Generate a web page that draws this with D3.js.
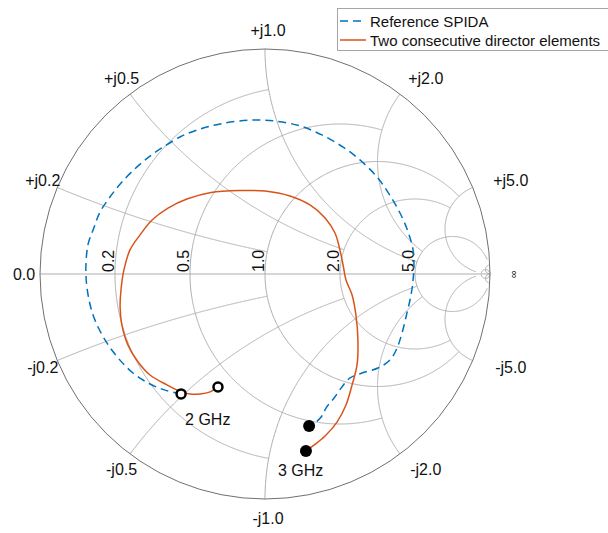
<!DOCTYPE html>
<html>
<head>
<meta charset="utf-8">
<script src="https://cdn.jsdelivr.net/npm/d3@7"></script>
<style>
  body { margin: 0; background: #fff; }
  svg { display: block; }
  text { font-family: "Liberation Sans", Arial, Helvetica, sans-serif; fill: #111; }
</style>
</head>
<body>
<svg id="chart" width="608" height="533"></svg>
<script>
// Smith chart grid: circle values and the value up to which each circle / arc is drawn
const gridValues = [0.2, 0.5, 1.0, 2.0, 5.0, 50.0];
const gridLimits = [1.0, 2.0, 5.0, 5.0, 30.0, Infinity];

// Tick labels
const resistanceTicks = [0.2, 0.5, 1.0, 2.0, 5.0];
const reactanceTicks = [0.2, 0.5, 1.0, 2.0, 5.0];
const reactanceLabels = ["0.2", "0.5", "1.0", "2.0", "5.0"];

// Reflection coefficient traces [Re, Im], 2 GHz -> 3 GHz
const referenceSpida = [
  [-0.373, -0.533], [-0.444, -0.516], [-0.511, -0.489], [-0.587, -0.440],
  [-0.653, -0.373], [-0.711, -0.293], [-0.756, -0.204], [-0.782, -0.116],
  [-0.796, 0.000], [-0.787, 0.129], [-0.764, 0.196], [-0.733, 0.276],
  [-0.689, 0.342], [-0.636, 0.409], [-0.569, 0.476], [-0.511, 0.524],
  [-0.453, 0.564], [-0.378, 0.609], [-0.302, 0.640], [-0.200, 0.667],
  [-0.067, 0.684], [0.044, 0.680], [0.156, 0.658], [0.253, 0.618],
  [0.347, 0.564], [0.422, 0.507], [0.498, 0.431], [0.551, 0.356],
  [0.600, 0.271], [0.636, 0.187], [0.658, 0.107], [0.662, 0.040],
  [0.658, -0.027], [0.649, -0.093], [0.631, -0.173], [0.609, -0.262],
  [0.587, -0.329], [0.556, -0.382], [0.502, -0.418], [0.431, -0.440],
  [0.378, -0.462], [0.342, -0.502], [0.307, -0.551], [0.271, -0.596],
  [0.253, -0.631], [0.227, -0.658], [0.196, -0.676]
];
const directorPair = [
  [-0.209, -0.502], [-0.244, -0.524], [-0.289, -0.533], [-0.333, -0.533],
  [-0.373, -0.524], [-0.436, -0.493], [-0.511, -0.449], [-0.564, -0.391],
  [-0.609, -0.316], [-0.636, -0.227], [-0.644, -0.147], [-0.640, -0.071],
  [-0.627, 0.018], [-0.600, 0.107], [-0.556, 0.173], [-0.502, 0.240],
  [-0.431, 0.293], [-0.347, 0.333], [-0.240, 0.362], [-0.111, 0.371],
  [0.000, 0.369], [0.111, 0.347], [0.200, 0.307], [0.267, 0.249],
  [0.311, 0.182], [0.333, 0.107], [0.347, 0.040], [0.360, -0.027],
  [0.387, -0.093], [0.404, -0.182], [0.413, -0.293], [0.409, -0.404],
  [0.387, -0.493], [0.360, -0.582], [0.320, -0.658], [0.267, -0.720],
  [0.213, -0.764], [0.182, -0.787]
];

const seriesNames = ["Reference SPIDA", "Two consecutive director elements"];
const seriesColors = ["#0072BD", "#D95319"];
const freqLabels = ["2 GHz", "3 GHz"];

const svg = d3.select("#chart");
const cx = 265, cy = 274, R = 225;

// Reflection-plane scales
const gx = d3.scaleLinear().domain([-1, 1]).range([cx - R, cx + R]);
const gy = d3.scaleLinear().domain([-1, 1]).range([cy + R, cy - R]);

// normalized impedance r + jx -> reflection coefficient
function gamma(r, x) {
  const d = (r + 1) * (r + 1) + x * x;
  return [(r * r - 1 + x * x) / d, (2 * x) / d];
}
// map t in [0, 1] onto [0, lim], using a tangent stretch for an unbounded limit
function span(lim, t) {
  return isFinite(lim) ? lim * t : Math.tan(Math.min(t, 0.9995) * Math.PI / 2);
}
const line = d3.line().x(d => gx(d[0])).y(d => gy(d[1]));
const smooth = d3.line().x(d => gx(d[0])).y(d => gy(d[1])).curve(d3.curveCatmullRom.alpha(0.5));

const grid = svg.append("g")
  .attr("fill", "none").attr("stroke", "#adadad").attr("stroke-width", 1);

// real axis
grid.append("path").attr("d", line([[-1, 0], [1, 0]]));

gridValues.forEach((v, i) => {
  const lim = gridLimits[i];
  // constant resistance circle, |x| <= lim
  const rc = d3.range(-400, 401).map(k => gamma(v, Math.sign(k) * span(lim, Math.abs(k) / 400)));
  grid.append("path").attr("d", line(rc));
  // constant reactance arcs +/-v, r <= lim
  [1, -1].forEach(s => {
    const xa = d3.range(0, 601).map(k => gamma(span(lim, k / 600), s * v));
    grid.append("path").attr("d", line(xa));
  });
});

// outer boundary |Gamma| = 1
svg.append("circle")
  .attr("cx", gx(0)).attr("cy", gy(0)).attr("r", gx(1) - gx(0))
  .attr("fill", "none").attr("stroke", "#707070").attr("stroke-width", 1);

// resistance labels along the real axis
svg.append("g").selectAll("text").data(resistanceTicks).join("text")
  .attr("transform", d => `translate(${gx((d - 1) / (d + 1)) - 1.5},${gy(0) - 2}) rotate(-90)`)
  .attr("font-size", 16)
  .text(d => d.toFixed(1));

// reactance labels around the rim
const rimLabels = [{ g: [-1, 0], t: "0.0" }];
reactanceTicks.forEach((v, i) => {
  rimLabels.push({ g: gamma(0, v), t: "+j" + reactanceLabels[i] });
  rimLabels.push({ g: gamma(0, -v), t: "-j" + reactanceLabels[i] });
});
const labelR = 244 / R;
svg.append("g").selectAll("text").data(rimLabels).join("text")
  .attr("x", d => gx(d.g[0] * labelR) + 3 + (d.g[0] > 0 ? 19 * d.g[0] : 0))
  .attr("y", d => gy(d.g[1] * labelR))
  .attr("text-anchor", "middle")
  .attr("dominant-baseline", "central")
  .attr("font-size", 16)
  .text(d => d.t);

// infinity mark
svg.append("text")
  .attr("transform", `translate(${gx(1.1)},${gy(0)}) rotate(-90)`)
  .attr("text-anchor", "middle").attr("dominant-baseline", "central")
  .attr("font-size", 11)
  .text("\u221E");

// traces
const series = [referenceSpida, directorPair];
series.forEach((s, i) => {
  svg.append("path")
    .attr("d", smooth(s))
    .attr("fill", "none")
    .attr("stroke", seriesColors[i])
    .attr("stroke-width", 1.5)
    .attr("stroke-dasharray", i === 0 ? "8,5" : null);
});

// frequency markers: start (open) and stop (filled)
series.forEach(s => {
  const a = s[0], b = s[s.length - 1];
  svg.append("circle").attr("cx", gx(a[0])).attr("cy", gy(a[1])).attr("r", 4.5)
    .attr("fill", "#fff").attr("stroke", "#000").attr("stroke-width", 2.5);
  svg.append("circle").attr("cx", gx(b[0])).attr("cy", gy(b[1])).attr("r", 6)
    .attr("fill", "#000");
});

// frequency annotations
svg.append("text").attr("x", gx(referenceSpida[0][0]) + 4).attr("y", gy(referenceSpida[0][1]) + 31)
  .attr("font-size", 16).text(freqLabels[0]);
svg.append("text").attr("x", gx(directorPair[directorPair.length - 1][0]) - 28)
  .attr("y", gy(directorPair[directorPair.length - 1][1]) + 25)
  .attr("font-size", 16).text(freqLabels[1]);

// legend
const lg = svg.append("g");
lg.append("rect").attr("x", 337.5).attr("y", 8.5).attr("width", 275).attr("height", 42)
  .attr("fill", "#fff").attr("stroke", "#a6a6a6").attr("stroke-width", 1);
seriesNames.forEach((n, i) => {
  const yy = 21 + i * 19;
  lg.append("line").attr("x1", 340).attr("x2", 366).attr("y1", yy).attr("y2", yy)
    .attr("stroke", seriesColors[i]).attr("stroke-width", 1.5)
    .attr("stroke-dasharray", i === 0 ? "8,5" : null);
  lg.append("text").attr("x", 370).attr("y", yy + 6).attr("font-size", 15).text(n);
});
</script>
</body>
</html>
